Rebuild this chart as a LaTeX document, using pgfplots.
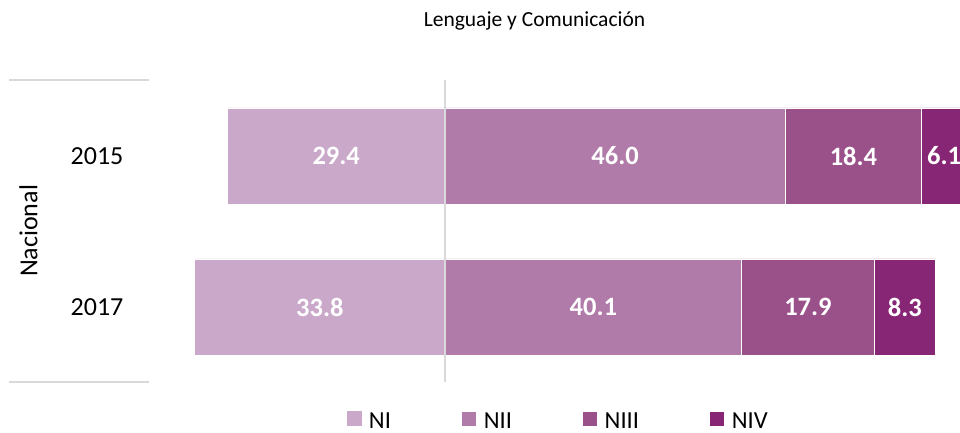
\documentclass[border=0pt]{standalone}
\usepackage{fontspec}
\setmainfont{Carlito}
\usepackage{pgfplots}
\pgfplotsset{compat=1.18}
\definecolor{cNI}{HTML}{C9A8C9}
\definecolor{cNII}{HTML}{B07BA8}
\definecolor{cNIII}{HTML}{9A518A}
\definecolor{cNIV}{HTML}{872674}
\definecolor{cLine}{HTML}{D9D9D9}
\pgfplotsset{
  basegeom/.style={
    at={(149bp,50.5bp)}, anchor=south west,
    scale only axis, width=811bp, height=302bp,
    xmin=-40, xmax=69.6, ymin=-0.5, ymax=1.5,
    axis line style={draw=none},
    tick style={draw=none},
    xtick=\empty,
  }
}
\begin{document}
\begin{tikzpicture}
\useasboundingbox (0,0) rectangle (960bp,433bp);
\begin{axis}[
  basegeom,
  xbar stacked,
  bar width=96bp,
  ytick={0,1},
  yticklabels={2017,2015},
  yticklabel style={font=\fontsize{26bp}{31bp}\selectfont, anchor=center, xshift=-52bp},
  legend image code/.code={\fill[#1] (0bp,-4.5bp) rectangle (15bp,10.5bp);},
  legend columns=4,
  legend style={draw=none, fill=none, inner sep=0pt, outer sep=0pt,
    font=\fontsize{24.5bp}{29bp}\selectfont,
    nodes={inner sep=0pt},
    /tikz/every odd column/.append style={column sep=7bp},
    /tikz/every even column/.append style={column sep=70bp},
    at={(0.2441,-0.1252)}, anchor=west},
]
\addlegendimage{fill=cNI, draw=none}
\addplot[fill=cNII, draw=white, line width=0.8bp] coordinates {(46.0,1) (40.1,0)};
\addplot[fill=cNIII, draw=white, line width=0.8bp] coordinates {(18.4,1) (17.9,0)};
\addplot[fill=cNIV, draw=white, line width=0.8bp] coordinates {(6.1,1) (8.3,0)};
\legend{NI,NII,NIII,NIV}
\end{axis}
\begin{axis}[
  basegeom,
  ytick=\empty,
  clip=false,
]
\addplot[xbar, bar width=96bp, fill=cNI, draw=white, line width=0.8bp] coordinates {(-29.4,1) (-33.8,0)};
\draw[cLine, line width=1.5bp] (axis cs:0,-0.5) -- (axis cs:0,1.5);
\draw[cLine, line width=2bp] (axis cs:-58.9,1.5) -- (axis cs:-40,1.5);
\draw[cLine, line width=2bp] (axis cs:-58.9,-0.5) -- (axis cs:-40,-0.5);
\addplot[only marks, mark=none, point meta=explicit symbolic, nodes near coords,
  nodes near coords style={text=white, font=\fontsize{26.5bp}{31bp}\selectfont\bfseries, anchor=center}]
  coordinates {(-14.7,1) [29.4] (23.0,1) [46.0] (55.2,1) [18.4] (67.45,1) [6.1]
               (-16.9,0) [33.8] (20.05,0) [40.1] (49.05,0) [17.9] (62.15,0) [8.3]};
\end{axis}
\node[font=\fontsize{21.5bp}{26bp}\selectfont, anchor=base] at (534.5bp,406.3bp) {Lenguaje y Comunicación};
\node[rotate=90, anchor=base, font=\fontsize{26bp}{31bp}\selectfont] at (37.3bp,202bp) {Nacional};
\end{tikzpicture}
\end{document}
